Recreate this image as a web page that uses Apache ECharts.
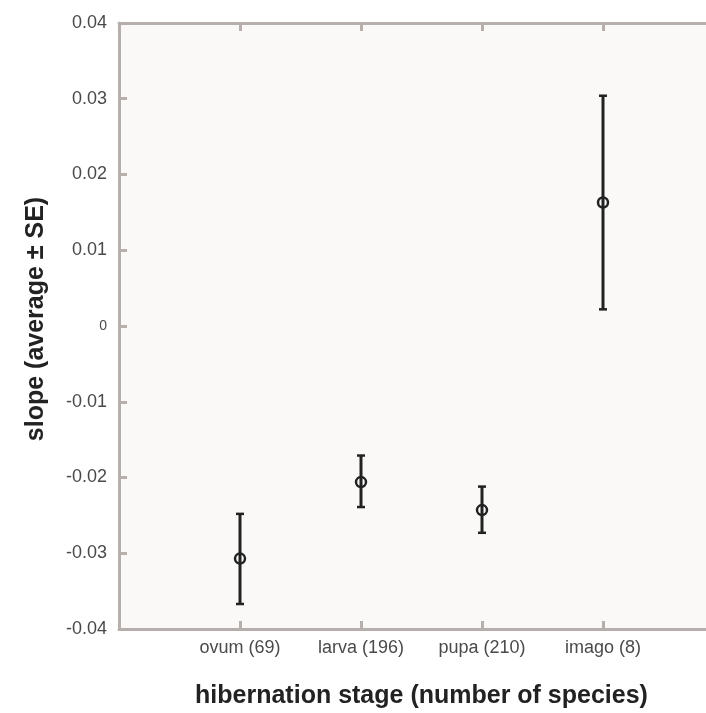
<!DOCTYPE html>
<html>
<head>
<meta charset="utf-8">
<script src="https://cdn.jsdelivr.net/npm/echarts@6/dist/echarts.min.js"></script>
<style>html,body{margin:0;padding:0;background:#fff;}#c{width:706px;height:713px;}</style>
</head>
<body>
<div id="c"></div>
<script>
const categories = ['ovum (69)', 'larva (196)', 'pupa (210)', 'imago (8)'];
const means = [-0.0307, -0.0206, -0.0243, 0.0163];
const lower = [-0.0367, -0.0239, -0.0273, 0.0022];
const upper = [-0.0248, -0.0171, -0.0212, 0.0304];
const yTicks = [-0.04, -0.03, -0.02, -0.01, 0, 0.01, 0.02, 0.03, 0.04];

const axisColor = '#b7afac';
const font = '"Liberation Sans", Arial, Helvetica, sans-serif';

const points = means.map((m, i) => [i + 1, m]);
const bars = means.map((m, i) => [i + 1, lower[i], upper[i]]);

const chart = echarts.init(document.getElementById('c'));
chart.setOption({
  backgroundColor: '#fff',
  animation: false,
  grid: { left: 119, top: 23, height: 606, width: 605, outerBoundsMode: 'none', containLabel: false,
          show: true, backgroundColor: '#faf9f7', borderWidth: 0 },
  xAxis: [{
    type: 'value', min: 0, max: 5, interval: 1, position: 'bottom',
    name: 'hibernation stage (number of species)', nameLocation: 'middle', nameGap: 55,
    nameTextStyle: { fontFamily: font, fontSize: 25, fontWeight: 'bold', color: '#222' },
    axisLine: { show: true, onZero: false, lineStyle: { color: axisColor, width: 3 } },
    axisTick: { show: true, inside: true, length: 8, lineStyle: { color: axisColor, width: 3 } },
    axisLabel: { margin: 10, fontFamily: font, fontSize: 18, color: '#4a4a4a',
      formatter: v => categories[v - 1] || '' },
    splitLine: { show: false }
  }, {
    type: 'value', min: 0, max: 5, interval: 1, position: 'top',
    axisLine: { show: true, onZero: false, lineStyle: { color: axisColor, width: 3 } },
    axisTick: { show: true, inside: true, length: 8, lineStyle: { color: axisColor, width: 3 } },
    axisLabel: { show: false }, splitLine: { show: false }
  }],
  yAxis: [{
    type: 'value', min: -0.04, max: 0.04, interval: 0.01,
    name: 'slope (average ± SE)', nameLocation: 'middle', nameGap: 70,
    nameTextStyle: { fontFamily: font, fontSize: 25, fontWeight: 'bold', color: '#222', padding: [0, 0, 0, 14] },
    axisLine: { show: true, onZero: false, lineStyle: { color: axisColor, width: 3 } },
    axisTick: { show: true, inside: true, length: 8, lineStyle: { color: axisColor, width: 3 } },
    axisLabel: { margin: 12, fontFamily: font, fontSize: 18, color: '#4a4a4a',
      formatter: v => {
        const t = yTicks.find(x => Math.abs(x - v) < 1e-9);
        if (t === 0) return '{s|0}';
        return (t !== undefined ? t : v).toFixed(2);
      },
      rich: { s: { fontFamily: font, fontSize: 14, color: '#4a4a4a' } } },
    splitLine: { show: false }
  }],
  series: [{
    type: 'custom',
    data: bars,
    z: 2,
    renderItem: (params, api) => {
      const x = api.value(0);
      const lo = api.coord([x, api.value(1)]);
      const hi = api.coord([x, api.value(2)]);
      const cw = 4;
      const st = { stroke: '#222', lineWidth: 3 };
      return { type: 'group', children: [
        { type: 'line', shape: { x1: lo[0], y1: lo[1], x2: hi[0], y2: hi[1] }, style: st },
        { type: 'line', shape: { x1: lo[0] - cw, y1: lo[1], x2: lo[0] + cw, y2: lo[1] }, style: { stroke: '#222', lineWidth: 2.5 } },
        { type: 'line', shape: { x1: hi[0] - cw, y1: hi[1], x2: hi[0] + cw, y2: hi[1] }, style: { stroke: '#222', lineWidth: 2.5 } }
      ]};
    }
  }, {
    type: 'scatter',
    data: points,
    z: 3,
    symbol: 'circle',
    symbolSize: 10,
    itemStyle: { color: 'rgba(0,0,0,0)', borderColor: '#222', borderWidth: 2.5, opacity: 1 }
  }]
});
</script>
</body>
</html>
